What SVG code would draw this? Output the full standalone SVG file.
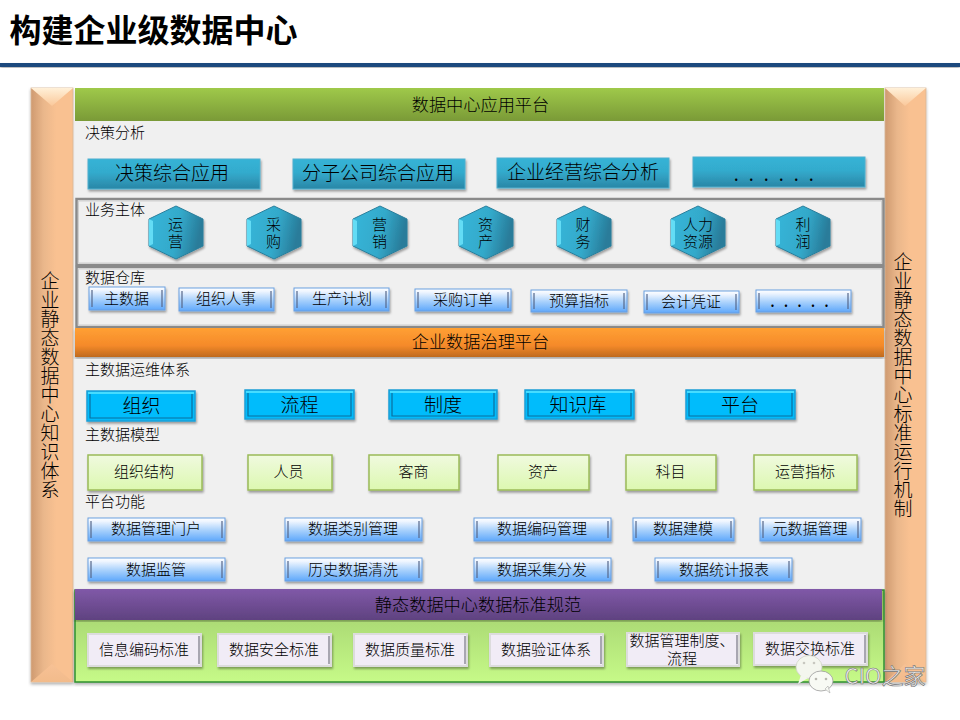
<svg xmlns="http://www.w3.org/2000/svg" width="960" height="720" viewBox="0 0 960 720">
<style>
text{font-family:"Noto Sans CJK SC","Liberation Sans",sans-serif;fill:#000;text-anchor:middle;font-weight:300}
.lab{font-size:15px;text-anchor:start}
.head{font-size:17.200px}
.big{font-size:19px}
.sm{font-size:15px}
.side{font-size:19px;writing-mode:vertical-rl}
.dec{fill:url(#gDec);stroke:#4fb0cf;stroke-width:1;filter:url(#sh)}
.hex{fill:url(#gHex);stroke:#2a7f9c;stroke-width:1;filter:url(#sh)}
.hexl{fill:#63dcf5}
.btn{fill:url(#gBtn);stroke:#6b9fe0;stroke-width:1;filter:url(#sh)}
.ops{fill:#05bcfc;stroke:#1b9fd6;stroke-width:1.500;filter:url(#sh)}
.opt{fill:none;stroke:#0a6f9e;stroke-width:1.200}
.oph{fill:none;stroke:#45dcff;stroke-width:2}
.mod{fill:url(#gMod);stroke:#9bbb59;stroke-width:1.500;filter:url(#sh)}
.std{fill:#f1ecf6;stroke:#dcdcdc;stroke-width:2;filter:url(#sh)}
.bev{stroke:#56688a;stroke-width:1.200;fill:none}
.bevg{stroke:#8f8f9a;stroke-width:1.500;fill:none}
.frame{fill:#f0f0f0;stroke:#8a8a8a;stroke-width:2.500}
.inner{fill:none;stroke:#cfcfcf;stroke-width:1}
</style>
<defs>
<linearGradient id="gDec" x1="0" y1="0" x2="0" y2="1"><stop offset="0" stop-color="#35b3d6"/><stop offset="0.45" stop-color="#33abcd"/><stop offset="1" stop-color="#2a86a6"/></linearGradient>
<linearGradient id="gHex" x1="0" y1="0" x2="1" y2="0.2"><stop offset="0" stop-color="#36b6da"/><stop offset="0.6" stop-color="#33a9ca"/><stop offset="1" stop-color="#297c9a"/></linearGradient>
<linearGradient id="gBtn" x1="0" y1="0" x2="0" y2="1"><stop offset="0" stop-color="#ffffff"/><stop offset="0.15" stop-color="#eef5ff"/><stop offset="0.55" stop-color="#a5cffc"/><stop offset="1" stop-color="#5fa8fb"/></linearGradient>
<linearGradient id="gMod" x1="0" y1="0" x2="0" y2="1"><stop offset="0" stop-color="#f0fadf"/><stop offset="1" stop-color="#dcf8b0"/></linearGradient>
<linearGradient id="gGreen" x1="0" y1="0" x2="0" y2="1"><stop offset="0" stop-color="#9fc94a"/><stop offset="1" stop-color="#7a9a37"/></linearGradient>
<linearGradient id="gOrange" x1="0" y1="0" x2="0" y2="1"><stop offset="0" stop-color="#ffa033"/><stop offset="0.6" stop-color="#f58a2a"/><stop offset="1" stop-color="#bf6a1e"/></linearGradient>
<linearGradient id="gPurple" x1="0" y1="0" x2="0" y2="1"><stop offset="0" stop-color="#8059a8"/><stop offset="1" stop-color="#5f4280"/></linearGradient>
<linearGradient id="gPanel" x1="0" y1="0" x2="0" y2="1"><stop offset="0" stop-color="#9fcb6c"/><stop offset="1" stop-color="#c6fa88"/></linearGradient>
<linearGradient id="gBar" x1="0" y1="0" x2="1" y2="0"><stop offset="0" stop-color="#cf9a70"/><stop offset="0.3" stop-color="#eab78b"/><stop offset="0.6" stop-color="#f9c191"/><stop offset="1" stop-color="#f9c191"/></linearGradient>
<linearGradient id="gCapT" x1="0" y1="0" x2="0" y2="1"><stop offset="0" stop-color="#fff0d8"/><stop offset="1" stop-color="#fac89a"/></linearGradient>
<linearGradient id="gCapB" x1="0" y1="1" x2="0" y2="0"><stop offset="0" stop-color="#f2bb8b"/><stop offset="1" stop-color="#f7c195"/></linearGradient>
<filter id="sh" x="-10%" y="-10%" width="120%" height="130%"><feDropShadow dx="1" dy="2" stdDeviation="1.200" flood-color="#000" flood-opacity="0.35"/></filter>
<filter id="shb" x="-5%" y="-5%" width="110%" height="110%"><feDropShadow dx="0" dy="2" stdDeviation="1.500" flood-color="#000" flood-opacity="0.3"/></filter>
</defs>
<rect width="960" height="720" fill="#fff"/>
<g id="title">
<rect x="0" y="63" width="960" height="4" fill="#1f497d" filter="url(#shb)"/>
<text x="9.500" y="42" style="font-size:32px;font-weight:700;text-anchor:start">构建企业级数据中心</text>
</g>
<g id="bar-left">
<rect x="31" y="88" width="42" height="594" fill="url(#gBar)" stroke="#d8b79a" stroke-width="0.800" filter="url(#shb)"/>
<polygon points="31,88 73,88 52,106" fill="url(#gCapT)"/>
<polygon points="31,682 73,682 52,664" fill="url(#gCapB)"/>
<text class="side" x="50" y="385">企业静态数据中心知识体系</text>
</g>
<g id="bar-right">
<rect x="885" y="88" width="41" height="594" fill="url(#gBar)" stroke="#d8b79a" stroke-width="0.800" filter="url(#shb)"/>
<polygon points="885,88 926,88 905,106" fill="url(#gCapT)"/>
<polygon points="885,682 926,682 905,664" fill="url(#gCapB)"/>
<text class="side" x="903" y="385">企业静态数据中心标准运行机制</text>
</g>
<g id="main-bg"><rect x="75" y="121" width="809" height="470" fill="#f0f0f0"/></g>
<g id="app-platform">
<rect x="75" y="88" width="809" height="33" fill="url(#gGreen)"/>
<text class="head" x="480.500" y="111">数据中心应用平台</text>
<text class="lab" x="85" y="138">决策分析</text>
</g>
<g id="d1"><rect class="dec" x="88" y="159" width="172" height="30"/><text class="big" x="172" y="180">决策综合应用</text></g>
<g id="d2"><rect class="dec" x="293" y="159" width="172" height="30"/><text class="big" x="378" y="180">分子公司综合应用</text></g>
<g id="d3"><rect class="dec" x="497" y="158" width="172" height="30"/><text class="big" x="583" y="179">企业经营综合分析</text></g>
<g id="d4"><rect class="dec" x="693" y="157" width="172" height="30"/><text class="sm" x="779" y="181" style="letter-spacing:10.500px;font-weight:500">......</text></g>
<g id="frame-business"><rect class="frame" x="76.500" y="199" width="807" height="66"/><rect class="inner" x="78.500" y="201" width="803" height="62"/><text class="lab" x="85" y="215">业务主体</text></g>
<g id="frame-warehouse"><rect class="frame" x="76.500" y="267" width="807" height="60"/><rect class="inner" x="78.500" y="269" width="803" height="56"/><text class="lab" x="85" y="283">数据仓库</text></g>
<g id="h1"><polygon class="hex" points="176,206 203,219 203,246 176,259 149,246 149,219"/><polygon class="hexl" points="149,219 153,221 153,244 149,246"/><text class="sm" x="175.500" y="230">运<tspan x="175.500" y="247">营</tspan></text></g>
<g id="h2"><polygon class="hex" points="274,206 301,219 301,246 274,259 247,246 247,219"/><polygon class="hexl" points="247,219 251,221 251,244 247,246"/><text class="sm" x="273.500" y="230">采<tspan x="273.500" y="247">购</tspan></text></g>
<g id="h3"><polygon class="hex" points="380,206 407,219 407,246 380,259 353,246 353,219"/><polygon class="hexl" points="353,219 357,221 357,244 353,246"/><text class="sm" x="379.500" y="230">营<tspan x="379.500" y="247">销</tspan></text></g>
<g id="h4"><polygon class="hex" points="486,206 513,219 513,246 486,259 459,246 459,219"/><polygon class="hexl" points="459,219 463,221 463,244 459,246"/><text class="sm" x="485.500" y="230">资<tspan x="485.500" y="247">产</tspan></text></g>
<g id="h5"><polygon class="hex" points="584,206 611,219 611,246 584,259 557,246 557,219"/><polygon class="hexl" points="557,219 561,221 561,244 557,246"/><text class="sm" x="583" y="230">财<tspan x="583" y="247">务</tspan></text></g>
<g id="h6"><polygon class="hex" points="698,206 725,219 725,246 698,259 671,246 671,219"/><polygon class="hexl" points="671,219 675,221 675,244 671,246"/><text class="sm" x="698" y="230">人力<tspan x="698" y="247">资源</tspan></text></g>
<g id="h7"><polygon class="hex" points="803,206 830,219 830,246 803,259 776,246 776,219"/><polygon class="hexl" points="776,219 780,221 780,244 776,246"/><text class="sm" x="803" y="230">利<tspan x="803" y="247">润</tspan></text></g>
<g id="w1"><rect class="btn" x="89" y="287" width="76" height="23"/><path class="bev" d="M162 290V307M92 290V307"/><text class="sm" x="126.500" y="304">主数据</text></g>
<g id="w2"><rect class="btn" x="179" y="288" width="95" height="23"/><path class="bev" d="M271 291V308M182 291V308"/><text class="sm" x="226" y="304">组织人事</text></g>
<g id="w3"><rect class="btn" x="294" y="288" width="95" height="23"/><path class="bev" d="M386 291V308M297 291V308"/><text class="sm" x="342" y="304">生产计划</text></g>
<g id="w4"><rect class="btn" x="415" y="289" width="96" height="22"/><path class="bev" d="M508 292V308M418 292V308"/><text class="sm" x="463" y="305">采购订单</text></g>
<g id="w5"><rect class="btn" x="531" y="290" width="96" height="22"/><path class="bev" d="M624 293V309M534 293V309"/><text class="sm" x="579" y="306">预算指标</text></g>
<g id="w6"><rect class="btn" x="644" y="291" width="95" height="22"/><path class="bev" d="M736 294V310M647 294V310"/><text class="sm" x="691" y="307">会计凭证</text></g>
<g id="w7"><rect class="btn" x="756" y="290" width="95" height="22"/><path class="bev" d="M848 293V309M759 293V309"/><text class="sm" x="804" y="307" style="letter-spacing:9px;font-weight:500">.....</text></g>
<g id="gov-platform">
<rect x="75" y="328" width="809" height="29" fill="url(#gOrange)" filter="url(#shb)"/>
<text class="head" x="480.500" y="348">企业数据治理平台</text>
<text class="lab" x="85" y="375">主数据运维体系</text>
<text class="lab" x="85" y="440">主数据模型</text>
<text class="lab" x="85" y="507">平台功能</text>
</g>
<g id="o1"><rect class="ops" x="87" y="391" width="108" height="30"/><path class="oph" d="M88 393H194"/><path class="opt" d="M90 394V418H192V394"/><text class="big" x="141.500" y="413">组织</text></g>
<g id="o2"><rect class="ops" x="245" y="390" width="109" height="29"/><path class="oph" d="M246 392H353"/><path class="opt" d="M248 393V416H351V393"/><text class="big" x="299.500" y="412">流程</text></g>
<g id="o3"><rect class="ops" x="389" y="390" width="108" height="29"/><path class="oph" d="M390 392H496"/><path class="opt" d="M392 393V416H494V393"/><text class="big" x="443" y="412">制度</text></g>
<g id="o4"><rect class="ops" x="525" y="390" width="109" height="29"/><path class="oph" d="M526 392H633"/><path class="opt" d="M528 393V416H631V393"/><text class="big" x="578" y="412">知识库</text></g>
<g id="o5"><rect class="ops" x="686" y="390" width="109" height="29"/><path class="oph" d="M687 392H794"/><path class="opt" d="M689 393V416H792V393"/><text class="big" x="740" y="412">平台</text></g>
<g id="m1"><rect class="mod" x="88" y="455" width="114" height="35"/><text class="sm" x="144" y="477">组织结构</text></g>
<g id="m2"><rect class="mod" x="248" y="455" width="84" height="35"/><text class="sm" x="288.500" y="477">人员</text></g>
<g id="m3"><rect class="mod" x="369" y="455" width="90" height="35"/><text class="sm" x="413.500" y="477">客商</text></g>
<g id="m4"><rect class="mod" x="498" y="455" width="91" height="35"/><text class="sm" x="543" y="477">资产</text></g>
<g id="m5"><rect class="mod" x="626" y="455" width="90" height="35"/><text class="sm" x="670.500" y="477">科目</text></g>
<g id="m6"><rect class="mod" x="754" y="455" width="103" height="35"/><text class="sm" x="805" y="477">运营指标</text></g>
<g id="p1"><rect class="btn" x="88" y="518" width="137" height="23"/><path class="bev" d="M222 521V538M91 521V538"/><text class="sm" x="156" y="534">数据管理门户</text></g>
<g id="p2"><rect class="btn" x="285" y="518" width="137" height="23"/><path class="bev" d="M419 521V538M288 521V538"/><text class="sm" x="353" y="534">数据类别管理</text></g>
<g id="p3"><rect class="btn" x="474" y="518" width="137" height="23"/><path class="bev" d="M608 521V538M477 521V538"/><text class="sm" x="542" y="534">数据编码管理</text></g>
<g id="p4"><rect class="btn" x="633" y="518" width="101" height="23"/><path class="bev" d="M731 521V538M636 521V538"/><text class="sm" x="683" y="534">数据建模</text></g>
<g id="p5"><rect class="btn" x="760" y="518" width="101" height="23"/><path class="bev" d="M858 521V538M763 521V538"/><text class="sm" x="810" y="534">元数据管理</text></g>
<g id="p6"><rect class="btn" x="88" y="558" width="137" height="23"/><path class="bev" d="M222 561V578M91 561V578"/><text class="sm" x="156" y="575">数据监管</text></g>
<g id="p7"><rect class="btn" x="285" y="558" width="137" height="23"/><path class="bev" d="M419 561V578M288 561V578"/><text class="sm" x="353" y="575">历史数据清洗</text></g>
<g id="p8"><rect class="btn" x="474" y="558" width="137" height="23"/><path class="bev" d="M608 561V578M477 561V578"/><text class="sm" x="542" y="575">数据采集分发</text></g>
<g id="p9"><rect class="btn" x="655" y="558" width="137" height="23"/><path class="bev" d="M789 561V578M658 561V578"/><text class="sm" x="724" y="575">数据统计报表</text></g>
<g id="std-platform">
<rect x="75" y="590" width="809" height="92" fill="url(#gPanel)" stroke="#2f8f2f" stroke-width="1.500" filter="url(#shb)"/>
<rect x="75" y="589" width="807" height="31" fill="url(#gPurple)" filter="url(#shb)"/>
<text class="head" x="478" y="611">静态数据中心数据标准规范</text>
</g>
<g id="s1"><rect class="std" x="88" y="634" width="113" height="32"/><path class="bevg" d="M199 636V664"/><text class="sm" x="144" y="655">信息编码标准</text></g>
<g id="s2"><rect class="std" x="218" y="634" width="113" height="32"/><path class="bevg" d="M329 636V664"/><text class="sm" x="274" y="655">数据安全标准</text></g>
<g id="s3"><rect class="std" x="354" y="634" width="113" height="32"/><path class="bevg" d="M465 636V664"/><text class="sm" x="410" y="655">数据质量标准</text></g>
<g id="s4"><rect class="std" x="490" y="634" width="113" height="32"/><path class="bevg" d="M601 636V664"/><text class="sm" x="546" y="655">数据验证体系</text></g>
<g id="s5"><rect class="std" x="627" y="633" width="112" height="33"/><path class="bevg" d="M737 635V664"/><text class="sm" x="682" y="646">数据管理制度、<tspan x="682" y="664">流程</tspan></text></g>
<g id="s6"><rect class="std" x="754" y="633" width="113" height="32"/><path class="bevg" d="M865 635V663"/><text class="sm" x="810" y="654">数据交换标准</text></g>
<g id="watermark">
<ellipse cx="809" cy="667" rx="13" ry="11.500" fill="#f4f6ee" stroke="#cfd3c6" stroke-width="0.800"/>
<polygon points="801,675 798,684 808,678" fill="#f4f6ee"/>
<ellipse cx="821" cy="681" rx="12" ry="10" fill="#f8faf4" stroke="#9a9a9a" stroke-width="0.800"/>
<polygon points="825,689 830,693 828,686" fill="#f8faf4" stroke="#9a9a9a" stroke-width="0.500"/>
<circle cx="804" cy="663" r="1.300" fill="#c8c8c0"/><circle cx="814" cy="663" r="1.300" fill="#c8c8c0"/>
<circle cx="816" cy="679" r="1.300" fill="#b8b8b0"/><circle cx="826" cy="679" r="1.300" fill="#b8b8b0"/>
<text x="885" y="684" style="font-size:22px;fill:#efefef;stroke:#6e6e6e;stroke-width:0.600;font-weight:400">CIO之家</text>
</g>
</svg>
